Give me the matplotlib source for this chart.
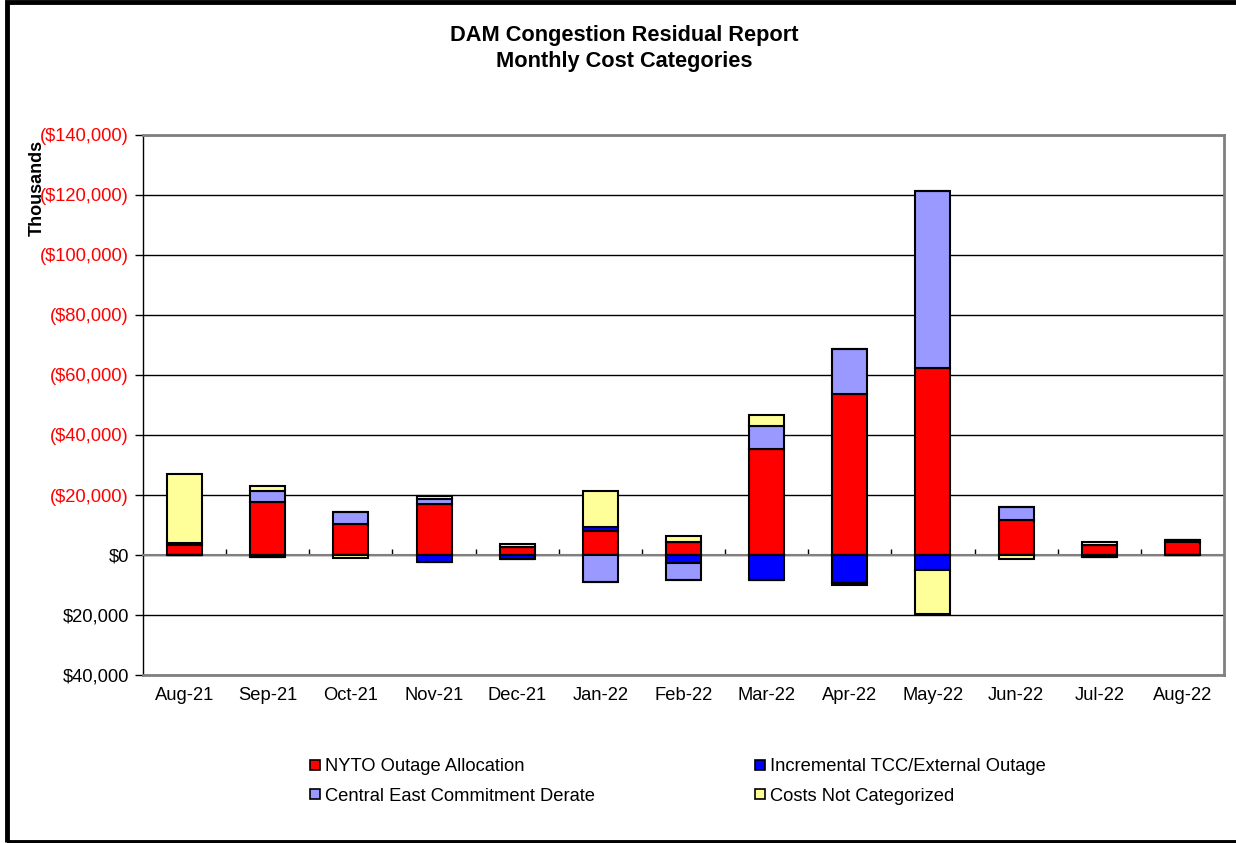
import numpy as np
import matplotlib.pyplot as plt
from matplotlib.patches import Rectangle
from matplotlib.lines import Line2D

plt.rcParams['font.family'] = ['Liberation Sans', 'DejaVu Sans']

months = ['Aug-21', 'Sep-21', 'Oct-21', 'Nov-21', 'Dec-21', 'Jan-22', 'Feb-22',
          'Mar-22', 'Apr-22', 'May-22', 'Jun-22', 'Jul-22', 'Aug-22']

# $ thousands, positive = cost (drawn upward)
nyto_outage = [3300, 17800, 10300, 16900, 2800, 8100, 4400, 35200, 53600, 62200, 11800, 3400, 4400]
incremental_tcc = [700, -500, 0, -2300, -1400, 1300, -2700, -8200, -9400, -5000, 0, -500, 700]
central_east = [0, 3600, 3900, 1900, 0, -9100, -5600, 7800, 15100, 59200, 4300, 0, 0]
not_categorized = [23000, 1500, -900, 900, 900, 12000, 1900, 3800, -600, -14700, -1200, 1100, 0]

series_names = ['NYTO Outage Allocation', 'Incremental TCC/External Outage',
                'Central East Commitment Derate', 'Costs Not Categorized']
series_colors = ['#ff0000', '#0000ff', '#9999ff', '#ffff99']

fig = plt.figure(figsize=(12.36, 8.43), dpi=100)
ax = fig.add_axes([143 / 1236, 168 / 843, 1081 / 1236, 540 / 843])

x = np.arange(len(months))
pos_base = np.zeros(len(months))
neg_base = np.zeros(len(months))
for vals, name, col in zip([nyto_outage, incremental_tcc, central_east, not_categorized],
                           series_names, series_colors):
    v = np.array(vals, dtype=float)
    pos = np.where(v > 0, v, 0)
    neg = np.where(v < 0, v, 0)
    ax.bar(x, pos, bottom=pos_base, width=0.42, color=col, edgecolor='black',
           linewidth=1.5, zorder=3)
    ax.bar(x, neg, bottom=neg_base, width=0.42, color=col, edgecolor='black',
           linewidth=1.5, zorder=3)
    pos_base += pos
    neg_base += neg

ax.set_xlim(-0.5, len(months) - 0.5)
ax.set_ylim(-40000, 140000)

yticks = np.arange(-40000, 140001, 20000)
ax.set_yticks(yticks)
labels = []
for v in yticks:
    if v > 0:
        labels.append(f'(${v:,.0f})')
    elif v == 0:
        labels.append('$0')
    else:
        labels.append(f'${-v:,.0f}')
ax.set_yticklabels(labels, fontsize=13.2)
for lab, v in zip(ax.get_yticklabels(), yticks):
    lab.set_color('red' if v > 0 else 'black')
ax.tick_params(axis='y', direction='out', length=6, width=1, pad=4)
ax.grid(axis='y', color='black', linewidth=1, zorder=0)

# category axis crosses at zero, labels at the bottom
ax.spines['bottom'].set_position(('data', 0))
ax.spines['bottom'].set_color('#808080')
ax.spines['bottom'].set_linewidth(1.5)
ax.set_xticks(np.arange(len(months) - 1) + 0.5)
ax.set_xticklabels([])
ax.tick_params(axis='x', direction='in', length=4, width=1, colors='black')

sec = ax.secondary_xaxis('bottom')
sec.set_xticks(x)
sec.set_xticklabels(months, fontsize=13.2)
sec.tick_params(length=0, pad=9)
sec.spines['bottom'].set_visible(False)

for s in ['top', 'right']:
    ax.spines[s].set_color('#808080')
    ax.spines[s].set_linewidth(2)
ax.spines['left'].set_color('black')
ax.spines['left'].set_linewidth(1)
ax.axhline(-40000, color='#808080', linewidth=2, zorder=4, clip_on=False)

fig.text(624 / 1236, 1 - 36 / 843, 'DAM Congestion Residual Report', ha='center',
         va='center', fontsize=15.7, fontweight='bold')
fig.text(624 / 1236, 1 - 61 / 843, 'Monthly Cost Categories', ha='center',
         va='center', fontsize=15.7, fontweight='bold')
fig.text(37 / 1236, 1 - 188 / 843, 'Thousands', rotation=90, ha='center',
         va='center', fontsize=13, fontweight='bold')

handles = [Line2D([], [], marker='s', linestyle='none', markersize=7,
                  markerfacecolor=c, markeredgecolor='black', markeredgewidth=1.2)
           for c in series_colors]
# legend fills column-wise: put entries so rows read red/blue, purple/yellow
order = [0, 2, 1, 3]
fig.legend([handles[i] for i in order], [series_names[i] for i in order],
           loc='upper left', ncol=2, bbox_to_anchor=(306 / 1236, 1 - 758 / 843),
           frameon=False, fontsize=13.2, handletextpad=0.05, columnspacing=8.5,
           labelspacing=0.7, handlelength=1.0, borderpad=0, borderaxespad=0)

fig.patches.append(Rectangle((6.5 / 1236, 1 / 843), 1.2, 1 - 2.5 / 843,
                             transform=fig.transFigure, fill=False,
                             edgecolor='black', linewidth=3.5))

fig.savefig('out.png', dpi=100, facecolor='white')
